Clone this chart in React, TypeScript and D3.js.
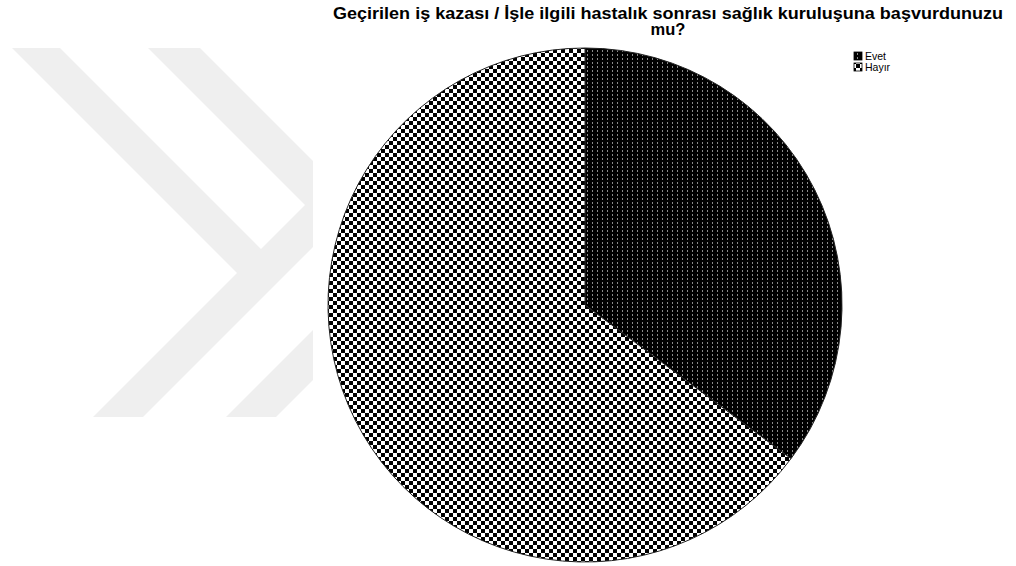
import React from "react";
import * as d3 from "d3";

const categories = ["Evet", "Hayır"];
const percents = [35.2, 64.8];
const titleLines = [
  "Geçirilen iş kazası / İşle ilgili hastalık sonrası sağlık kuruluşuna başvurdunuzu",
  "mu?",
];
const patternIds = ["patEvet", "patHayir"];

const W = 1016;
const H = 566;
const cx = 585;
const cy = 305;
const R = 257;

export default function App() {
  const pie = d3
    .pie<number>()
    .sort(null)
    .value((d) => d)
    .startAngle(0)
    .endAngle(2 * Math.PI);
  const arcs = pie(percents);
  const arcGen = d3.arc<d3.PieArcDatum<number>>().innerRadius(0).outerRadius(R);

  // watermark chevrons (background decoration)
  const clipX = 313;
  const chev1 = [
    [12, 48], [60, 48], [261, 249], [clipX, 197], [clipX, 247],
    [143, 417], [93, 417], [237, 273],
  ];
  const chev2a = [[148, 48], [200, 48], [clipX, 161], [clipX, 213]];
  const chev2b = [[226, 417], [clipX, 330], [clipX, 380], [276, 417]];
  const poly = (pts: number[][]) => pts.map((p) => p.join(",")).join(" ");

  const legendX = 854;
  const legendY = [60, 71];

  return (
    <svg
      width={W}
      height={H}
      style={{ position: "absolute", left: 0, top: 0, display: "block", background: "#fff" }}
      fontFamily="'Liberation Sans', Arial, sans-serif"
    >
      <defs>
        <pattern id="patEvet" width={5} height={4} patternUnits="userSpaceOnUse">
          <rect width={5} height={4} fill="#000" />
          <rect x={2} y={1} width={1} height={2} fill="#8a8a8a" />
        </pattern>
        <pattern id="patHayir" width={8} height={8} patternUnits="userSpaceOnUse">
          <rect width={8} height={8} fill="#fff" />
          <rect x={0} y={0} width={4} height={4} fill="#000" />
          <rect x={4} y={4} width={4} height={4} fill="#000" />
        </pattern>
        <clipPath id="wmClip">
          <rect x={0} y={0} width={clipX} height={H} />
        </clipPath>
      </defs>

      <g clipPath="url(#wmClip)" fill="#efefef">
        <polygon points={poly(chev1)} />
        <polygon points={poly(chev2a)} />
        <polygon points={poly(chev2b)} />
      </g>

      <g transform={`translate(${cx},${cy})`}>
        {arcs.map((a, i) => (
          <path
            key={categories[i]}
            d={arcGen(a) || ""}
            fill={`url(#${patternIds[i]})`}
            stroke="#222"
            strokeWidth={1}
          />
        ))}
      </g>

      <text textAnchor="middle" fontWeight="bold" fontSize={16.5} fill="#000">
        <tspan x={668} y={19} textLength={670} lengthAdjust="spacingAndGlyphs">
          {titleLines[0]}
        </tspan>
        <tspan x={668} y={35}>
          {titleLines[1]}
        </tspan>
      </text>

      {categories.map((c, i) => (
        <g key={c}>
          <rect
            x={legendX}
            y={legendY[i] - 8}
            width={8}
            height={8}
            fill={`url(#${patternIds[i]})`}
            stroke="#000"
            strokeWidth={0.8}
          />
          <text x={legendX + 11} y={legendY[i]} fontSize={10.5} fill="#000">
            {c}
          </text>
        </g>
      ))}
    </svg>
  );
}
